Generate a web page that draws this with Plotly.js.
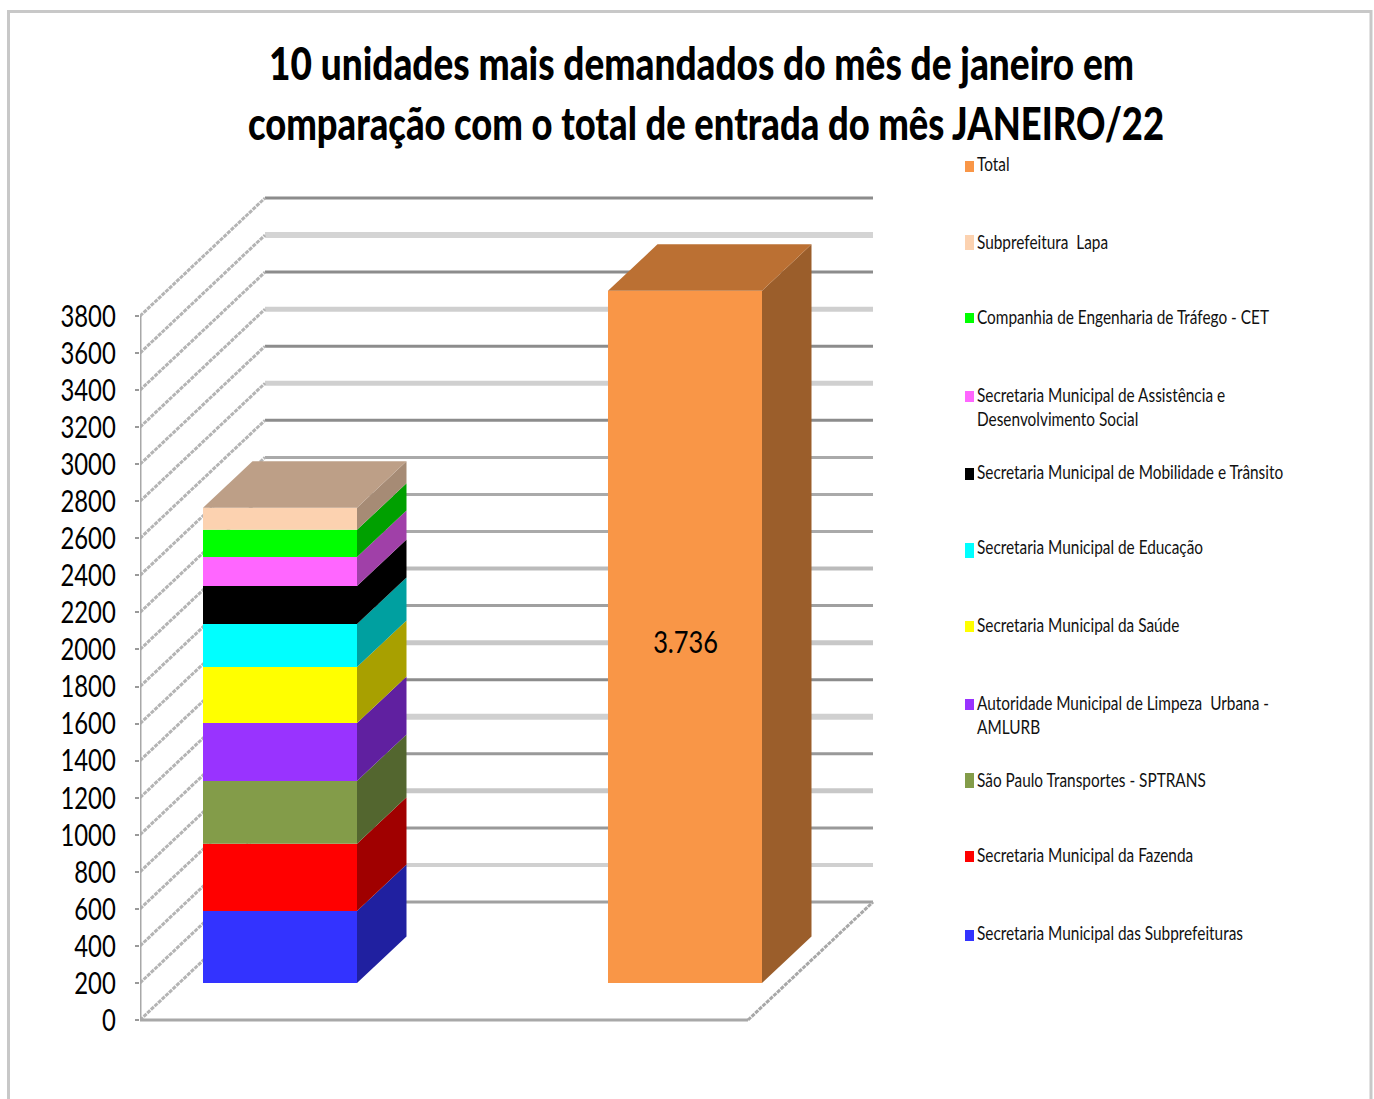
<!DOCTYPE html>
<html lang="pt-BR">
<head>
<meta charset="utf-8">
<title>Unidades mais demandadas - Janeiro/22</title>
<script src="https://cdn.plot.ly/plotly-3.0.1.min.js"></script>
<style>html,body{margin:0;padding:0;background:#fff}#chart{width:1374px;height:1099px}</style>
</head>
<body>
<div id="chart"></div>
<script>
// Demand per unit, January 2022, bottom of the stack first
const unitNames = [
  'Secretaria Municipal das Subprefeituras',
  'Secretaria Municipal da Fazenda',
  'São Paulo Transportes - SPTRANS',
  'Autoridade Municipal de Limpeza  Urbana -<br>AMLURB',
  'Secretaria Municipal da Saúde',
  'Secretaria Municipal de Educação',
  'Secretaria Municipal de Mobilidade e Trânsito',
  'Secretaria Municipal de Assistência e<br>Desenvolvimento Social',
  'Companhia de Engenharia de Tráfego - CET',
  'Subprefeitura  Lapa'
];
const unitValues = [389, 362, 340, 313, 302, 232, 205, 157, 146, 119];
const totalName = 'Total';
const totalValue = 3736;
const tickValues = [0, 200, 400, 600, 800, 1000, 1200, 1400, 1600, 1800, 2000,
  2200, 2400, 2600, 2800, 3000, 3200, 3400, 3600, 3800];

// Face colours: front, side
const unitFront = ['#3333ff', '#ff0000', '#839c49', '#9933ff', '#ffff00', '#00ffff', '#000000', '#ff66ff', '#00ff00', '#fcd2b0'];
const unitSide = ['#2020a0', '#a00000', '#53662f', '#6020a0', '#a8a000', '#00a0a0', '#000000', '#a040a8', '#00a000', '#a68b75'];
const stackTopColor = '#bd9f87';
const totalFront = '#f99647', totalSide = '#9b5e2b', totalTop = '#bb7033';

// Wall rule styling, indexed like tickValues
const ruleColors = ['#a0a0a0', '#d0d0d0', '#999999', '#c8c8c8', '#999999', '#d0d0d0', '#8c8c8c', '#c8c8c8', '#a0a0a0', '#bbbbbb',
  '#aaaaaa', '#aaaaaa', '#aaaaaa', '#8c8c8c', '#d0d0d0', '#8c8c8c', '#cfcfcf', '#8c8c8c', '#d4d4d4', '#8c8c8c'];
const ruleWidths = [3, 4, 3, 5, 3, 6, 3, 5, 3, 4, 3, 3, 3, 3, 5, 3, 5, 3, 6, 3];

// Oblique projection: pixels per unit, floor depth and bar depth
const W = 1374, H = 1099;
const pxPerUnit = 0.18526;
const zeroY = 1020;
const axisX = 140;
const wallDX = 125, wallDV = 118 / pxPerUnit;
const floorRightX = 748;
const barDX = 49.5, barDV = 46.5 / pxPerUnit;
const barPlaneV = 37 / pxPerUnit;
const barWidth = 154;
const stackCenter = 280, totalCenter = 685;

const px = x => x / W;
const py = y => 1 - y / H;
const FONT = 'Lato, "Liberation Sans", sans-serif';

function barFaces(center, from, to, front, side) {
  const base = barPlaneV + from, top = barPlaneV + to;
  const right = center + barWidth / 2;
  return [
    { type: 'bar', x: [center], y: [to - from], base: [base], width: [barWidth],
      marker: { color: front, line: { width: 0 } }, hoverinfo: 'skip', showlegend: false },
    { type: 'scatter', mode: 'lines', fill: 'toself', fillcolor: side, line: { width: 0, color: side },
      x: [right, right + barDX, right + barDX, right, right],
      y: [base, base + barDV, top + barDV, top, base], hoverinfo: 'skip', showlegend: false }
  ];
}
function barTop(center, v, color) {
  const l = center - barWidth / 2, r = center + barWidth / 2, t = barPlaneV + v;
  return { type: 'scatter', mode: 'lines', fill: 'toself', fillcolor: color, line: { width: 0, color: color },
    x: [l, r, r + barDX, l + barDX, l], y: [t, t, t + barDV, t + barDV, t], hoverinfo: 'skip', showlegend: false };
}

const traces = [];
let running = 0;
unitValues.forEach((v, i) => {
  traces.push(...barFaces(stackCenter, running, running + v, unitFront[i], unitSide[i]));
  running += v;
});
traces.push(barTop(stackCenter, running, stackTopColor));
traces.push(...barFaces(totalCenter, 0, totalValue, totalFront, totalSide));
traces.push(barTop(totalCenter, totalValue, totalTop));

// Walls, floor and value axis, kept behind the bars
const shapes = [];
const line = (x0, y0, x1, y1, color, width, dash) => shapes.push({
  type: 'line', xref: 'x', yref: 'y', layer: 'below', x0, y0, x1, y1,
  line: { color, width, dash: dash || 'solid' }
});
const backRight = 873;
tickValues.forEach((t, i) => {
  line(axisX + wallDX, t + wallDV, backRight, t + wallDV, ruleColors[i], ruleWidths[i]);
  line(axisX, t, axisX + wallDX, t + wallDV, '#b4b4b4', 3, '4px,1px');
});
line(axisX, 0, axisX, tickValues[tickValues.length - 1], '#a8a8a8', 3);
line(axisX, 0, floorRightX, 0, '#a8a8a8', 3);
line(floorRightX, 0, floorRightX + wallDX, wallDV, '#a8a8a8', 3, '4px,1px');

// Outer frame of the chart
shapes.push({ type: 'rect', xref: 'paper', yref: 'paper', layer: 'below',
  x0: px(8.5), x1: px(1371), y0: py(1110), y1: py(11.5), line: { color: '#c8c8c8', width: 3 } });

// Legend column: swatch centres, swatch heights and label centres
const legendNames = [totalName, ...unitNames.slice().reverse()];
const legendColors = [totalFront, ...unitFront.slice().reverse()];
const legendCenters = [166.5, 242.5, 318, 396.5, 474, 550.5, 626.5, 704.5, 780.5, 856.5, 935.5];
const swatchHeights = [11, 15, 10, 11, 12, 15, 11, 11, 15, 11, 11];
const labelCenters = [164, 242, 317, 395, 472, 547, 625, 703, 780, 855, 933];

const annotations = [];
legendNames.forEach((name, i) => {
  shapes.push({ type: 'rect', xref: 'paper', yref: 'paper',
    x0: px(965), x1: px(974),
    y0: py(legendCenters[i] + swatchHeights[i] / 2), y1: py(legendCenters[i] - swatchHeights[i] / 2),
    fillcolor: legendColors[i], line: { width: 0 } });
  annotations.push({ xref: 'paper', yref: 'paper', x: px(976), y: py(labelCenters[i] - 12), xanchor: 'left', yanchor: 'top',
    align: 'left', showarrow: false, text: name, borderpad: 0,
    font: { family: FONT, size: 18.5, color: '#111111' } });
});

// Value label on the total column
annotations.push({ xref: 'x', yref: 'y', x: totalCenter, y: barPlaneV + totalValue / 2, yshift: -4,
  showarrow: false, text: totalValue.toLocaleString('pt-BR'),
  font: { family: FONT, size: 31, color: '#000000' } });

const titleCenter = 703.5;
const layout = {
  width: W, height: H,
  margin: { l: 0, r: 0, t: 0, b: 0, pad: 0 },
  paper_bgcolor: '#ffffff', plot_bgcolor: 'rgba(0,0,0,0)',
  showlegend: false,
  barmode: 'overlay',
  title: {
    text: '10 unidades mais demandados do mês de janeiro em<br>comparação com o total de entrada do mês JANEIRO/22',
    x: titleCenter / W, xanchor: 'center', xref: 'paper',
    y: 1 - 80 / H, yanchor: 'middle', yref: 'paper',
    font: { family: FONT, size: 46, weight: 900, color: '#000000' }
  },
  xaxis: { domain: [px(axisX), 1], range: [axisX, W], visible: false, fixedrange: true },
  yaxis: {
    domain: [0, 1],
    range: [(zeroY - H) / pxPerUnit, zeroY / pxPerUnit],
    tickmode: 'array', tickvals: tickValues, ticktext: tickValues.map(String),
    ticks: 'outside', ticklen: 4, tickwidth: 2, tickcolor: '#999999',
    ticklabelstandoff: 13,
    showgrid: false, zeroline: false, showline: false, automargin: false, fixedrange: true,
    tickfont: { family: FONT, size: 31, color: '#000000' }
  },
  shapes, annotations
};

// The chart uses a narrow humanist face; squeeze each rendered line horizontally.
function fit(el, length) {
  el.setAttribute('textLength', length);
  el.setAttribute('lengthAdjust', 'spacingAndGlyphs');
}
function squeeze(root, factor) {
  root.querySelectorAll('.line, text').forEach(el => {
    if (el.tagName === 'text' && el.querySelector('.line')) return;
    fit(el, el.getComputedTextLength() * factor);
  });
}
// The title is narrowed as a whole so its box stays inside the page.
function narrowTitle(gd) {
  const text = gd.querySelector('.g-gtitle text');
  const lines = text.querySelectorAll('.line');
  const sx = 865 / lines[0].getComputedTextLength();
  fit(lines[1], 916 / sx);
  lines[0].setAttribute('x', titleCenter - 2 / sx);
  lines[1].setAttribute('x', titleCenter + 2.5 / sx);
  text.setAttribute('transform', `translate(${titleCenter},0) scale(${sx},1) translate(${-titleCenter},0)`);
}

Plotly.newPlot('chart', traces, layout, { staticPlot: true, displayModeBar: false }).then(gd => {
  narrowTitle(gd);
  gd.querySelectorAll('.ytick').forEach(t => squeeze(t, 0.77));
  const notes = [...gd.querySelectorAll('.annotation')];
  const cet = notes.find(n => n.textContent.includes('Tráfego')).querySelector('text');
  const legendFactor = 292 / cet.getComputedTextLength();
  notes.forEach(n => squeeze(n, n.textContent === '3.736' ? 0.82 : legendFactor));
});
</script>
</body>
</html>
